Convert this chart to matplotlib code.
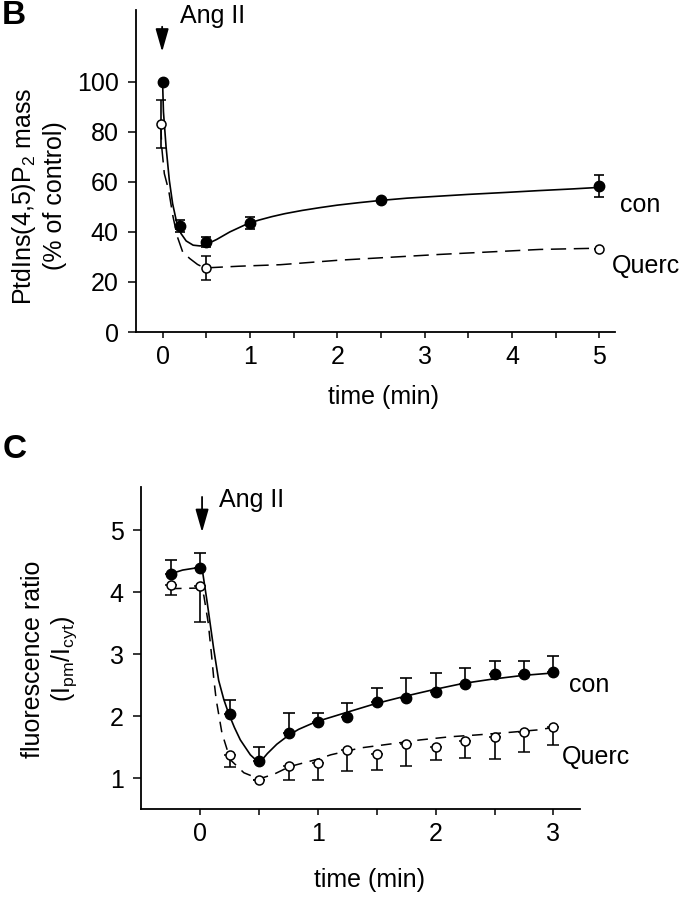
import numpy as np
import matplotlib
matplotlib.use("Agg")
import matplotlib.pyplot as plt
from matplotlib.ticker import MultipleLocator

plt.rcParams['font.family'] = ['Liberation Sans', 'DejaVu Sans']
plt.rcParams['mathtext.fontset'] = 'custom'
plt.rcParams['mathtext.rm'] = 'Liberation Sans'

# ---- panel B: PtdIns(4,5)P2 mass ----
b_time_con = [0, 0.2, 0.5, 1, 2.5, 5]
b_con = [100, 42.4, 36, 43.6, 52.7, 58.2]
b_con_err = [0, 2.4, 2.1, 2.3, 0, 4.4]
b_time_querc = [-0.02, 0.5, 5]
b_querc = [83.3, 25.6, 33.3]
b_querc_err = [9.6, 4.8, 0]

# fitted curves
b_fit_con_t = [0, 0.01, 0.04, 0.077, 0.115, 0.16, 0.21, 0.27, 0.35, 0.43, 0.5,
               0.62, 0.77, 0.98, 1.1, 1.25, 1.4, 1.6, 1.8, 2.0, 2.25, 2.5,
               2.8, 3.17, 3.5, 3.94, 4.3, 4.7, 5.0]
b_fit_con = [100, 88, 74, 60.7, 51.3, 44, 39.4, 36.4, 34.7, 34.4, 35,
             37, 40, 43.4, 44.7, 46.1, 47.3, 48.6, 49.7, 50.7, 51.7, 52.6,
             53.5, 54.3, 55.0, 55.8, 56.5, 57.2, 57.8]
b_fit_querc_t = [-0.02, -0.01, 0.02, 0.07, 0.12, 0.17, 0.23, 0.31, 0.4, 0.48,
                 0.88, 1.35, 2.02, 3.17, 4.32, 5.0]
b_fit_querc = [83, 74, 63.3, 56.6, 46, 38, 32, 29.4, 27, 25.6,
               26.3, 26.9, 28.7, 31, 33, 33.5]

# ---- panel C: fluorescence ratio ----
c_time = [-0.25, 0, 0.25, 0.5, 0.75, 1, 1.25, 1.5, 1.75, 2, 2.25, 2.5, 2.75, 3]
c_con = [4.29, 4.40, 2.03, 1.28, 1.73, 1.91, 1.99, 2.23, 2.30, 2.40, 2.52, 2.69, 2.69, 2.72]
c_con_err_up = [0.23, 0.24, 0.24, 0.23, 0.33, 0.15, 0.23, 0.23, 0.32, 0.30, 0.26, 0.20, 0.20, 0.26]
c_querc = [4.12, 4.11, 1.37, 0.98, 1.20, 1.24, 1.45, 1.40, 1.55, 1.51, 1.60, 1.67, 1.74, 1.82]
c_querc_err_down = [0.16, 0.59, 0.19, 0, 0.22, 0.26, 0.33, 0.26, 0.35, 0.21, 0.28, 0.36, 0.31, 0.28]

c_fit_con_t = [-0.25, -0.15, -0.05, 0.0, 0.015, 0.057, 0.113, 0.156, 0.2, 0.24, 0.29,
               0.34, 0.425, 0.47, 0.5, 0.53, 0.57, 0.65, 0.74, 0.835, 0.98, 1.22,
               1.48, 1.73, 1.98, 2.23, 2.48, 2.74, 3.0]
c_fit_con = [4.30, 4.36, 4.39, 4.41, 4.39, 3.86, 3.10, 2.58, 2.27, 2.05, 1.82,
             1.62, 1.38, 1.30, 1.27, 1.31, 1.40, 1.55, 1.68, 1.79, 1.91, 2.05,
             2.20, 2.32, 2.43, 2.53, 2.60, 2.66, 2.70]
c_fit_querc_t = [-0.25, 0.0, 0.03, 0.068, 0.095, 0.115, 0.135, 0.184, 0.255, 0.37,
                 0.5, 0.63, 0.76, 1.0, 1.11, 1.36, 1.64, 1.87, 2.12, 2.35, 2.62, 2.86, 3.0]
c_fit_querc = [4.06, 4.07, 3.95, 3.5, 3.0, 2.6, 2.27, 1.73, 1.30, 1.09,
               0.99, 1.07, 1.19, 1.31, 1.38, 1.49, 1.56, 1.62, 1.67, 1.70, 1.74, 1.78, 1.82]

FS = 18
W, H = 688, 899

fig = plt.figure(figsize=(W / 100, H / 100), dpi=100)


def px(x, y):
    """pixel position (from top-left) -> figure fraction"""
    return x / W, 1 - y / H


def style_axes(ax):
    for side in ('top', 'right'):
        ax.spines[side].set_visible(False)
    for side in ('left', 'bottom'):
        ax.spines[side].set_linewidth(1.3)
    ax.tick_params(axis='both', which='both', direction='out', width=1.1,
                   labelsize=FS)
    ax.tick_params(axis='x', which='both', length=4.5, pad=5)
    ax.tick_params(axis='y', which='both', length=6, pad=6)


def arrow(ax, x, y0, y1):
    ax.annotate('', xy=(x, y1), xytext=(x, y0), annotation_clip=False,
                arrowprops=dict(arrowstyle='-|>,head_length=1.4,head_width=0.4',
                                lw=1.3, color='black', shrinkA=0, shrinkB=0))


# ---------------- panel B ----------------
axB = fig.add_axes([135.5 / W, 1 - 332 / H, (615 - 135.5) / W, (332 - 10) / H])
style_axes(axB)
axB.set_xlim(-0.31, 5.18)
axB.set_ylim(0, 128.7)
axB.xaxis.set_major_locator(MultipleLocator(1))
axB.xaxis.set_minor_locator(MultipleLocator(0.5))
axB.set_yticks([0, 20, 40, 60, 80, 100])

axB.plot(b_fit_con_t, b_fit_con, color='black', lw=1.2, zorder=2)
axB.plot(b_fit_querc_t, b_fit_querc, color='black', lw=1.1,
         dashes=(10, 5), zorder=2)
axB.errorbar(b_time_con, b_con, yerr=b_con_err, fmt='o', color='black',
             ms=7.5, capsize=3.5, elinewidth=1.2, capthick=1.2, zorder=3)
axB.errorbar(b_time_querc, b_querc, yerr=b_querc_err, fmt='o', color='black',
             mfc='white', mec='black', mew=1.1, ms=6.5, capsize=3.5,
             elinewidth=1.2, capthick=1.2, zorder=4)

arrow(axB, -0.005, 122, 112)
axB.text(0.2, 123.4, 'Ang II', fontsize=FS, va='baseline', ha='left', clip_on=False)
axB.text(5.24, 48, 'con', fontsize=FS, va='baseline', ha='left', clip_on=False)
axB.text(5.14, 23.6, 'Querc', fontsize=FS, va='baseline', ha='left', clip_on=False)

fig.text(*px(24, 196), r'PtdIns(4,5)P$\mathregular{_2}$ mass', rotation=90,
         fontsize=FS, ha='center', va='center')
fig.text(*px(55, 196), '(% of control)', rotation=90,
         fontsize=FS, ha='center', va='center')
fig.text(*px(384, 397), 'time (min)', fontsize=FS, ha='center', va='center')
fig.text(*px(14, 15), 'B', fontsize=24, fontweight='bold', ha='center', va='center')

# ---------------- panel C ----------------
axC = fig.add_axes([140.5 / W, 1 - 809 / H, (580 - 140.5) / W, (809 - 487) / H])
style_axes(axC)
axC.set_xlim(-0.508, 3.226)
axC.set_ylim(0.505, 5.70)
axC.xaxis.set_major_locator(MultipleLocator(1))
axC.set_xticks(np.arange(0, 3.01, 0.5), minor=True)
axC.set_yticks([1, 2, 3, 4, 5])

axC.plot(c_fit_con_t, c_fit_con, color='black', lw=1.2, zorder=2)
axC.plot(c_fit_querc_t, c_fit_querc, color='black', lw=1.1,
         dashes=(7, 5), zorder=2)
axC.errorbar(c_time, c_con, yerr=[np.zeros(len(c_con)), c_con_err_up], fmt='o',
             color='black', ms=7.5, capsize=4, elinewidth=1.2, capthick=1.2,
             zorder=3)
axC.errorbar(c_time, c_querc, yerr=[c_querc_err_down, np.zeros(len(c_querc))],
             fmt='o', color='black', mfc='white', mec='black', mew=1.1, ms=6.5,
             capsize=4, elinewidth=1.2, capthick=1.2, zorder=4)

arrow(axC, 0.015, 5.54, 4.97)
axC.text(0.16, 5.38, 'Ang II', fontsize=FS, va='baseline', ha='left', clip_on=False)
axC.text(3.13, 2.40, 'con', fontsize=FS, va='baseline', ha='left', clip_on=False)
axC.text(3.07, 1.23, 'Querc', fontsize=FS, va='baseline', ha='left', clip_on=False)

fig.text(*px(33, 659), 'fluorescence ratio', rotation=90,
         fontsize=FS, ha='center', va='center')
fig.text(*px(64, 659), r'(I$\mathregular{_{pm}}$/I$\mathregular{_{cyt}}$)',
         rotation=90, fontsize=FS, ha='center', va='center')
fig.text(*px(370, 880), 'time (min)', fontsize=FS, ha='center', va='center')
fig.text(*px(15, 450), 'C', fontsize=24, fontweight='bold', ha='center', va='center')

fig.savefig('out.png', dpi=100)
